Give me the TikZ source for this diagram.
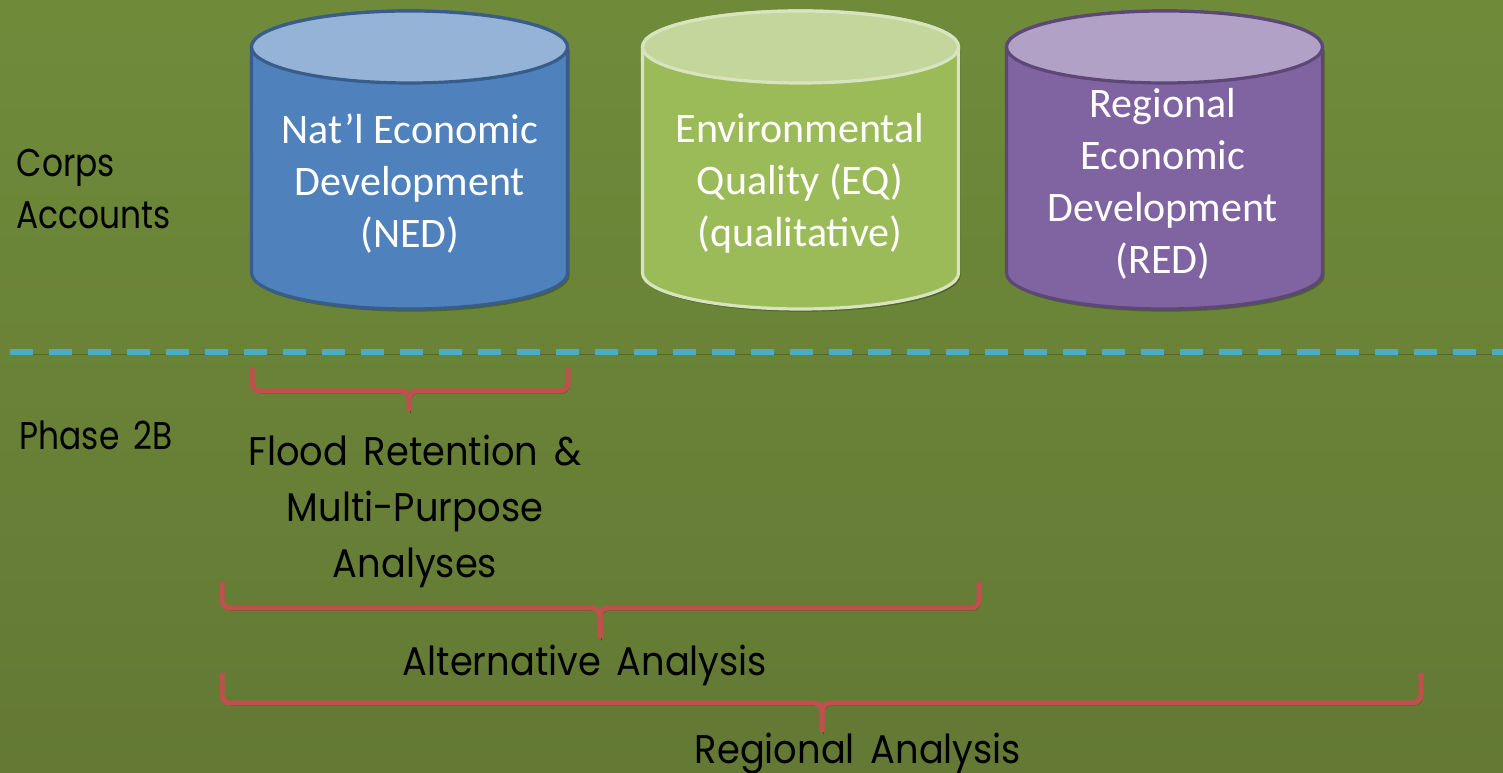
\documentclass[tikz,border=0pt]{standalone}
\usepackage{fontspec}
\setmainfont{Carlito}
\newfontfamily\labelfont[FakeStretch=0.92,WordSpace=1.6]{Poppins}
\newfontfamily\rowfont[FakeStretch=0.85,WordSpace=1.6]{Poppins}
\begin{document}
\begin{tikzpicture}[x=0.75pt,y=0.75pt]
\definecolor{bgtop}{HTML}{6F8B3A}
\definecolor{bgbot}{HTML}{637934}
\definecolor{nedbody}{HTML}{4F81BD}
\definecolor{nedtop}{HTML}{95B3D7}
\definecolor{nededge}{HTML}{385D8A}
\definecolor{eqbody}{HTML}{9BBB59}
\definecolor{eqtop}{HTML}{C3D69B}
\definecolor{eqedge}{HTML}{D7E4BD}
\definecolor{redbody}{HTML}{8064A2}
\definecolor{redtop}{HTML}{B2A1C7}
\definecolor{rededge}{HTML}{5C4776}
\definecolor{bracered}{HTML}{C0504D}
\definecolor{dashblue}{HTML}{4BACC6}
\tikzset{
  cyltext/.style={text=white,align=center,font=\fontsize{31.5}{39}\selectfont},
  blacklabel/.style={text=black,font=\labelfont\fontsize{30}{42}\selectfont},
  rowlabel/.style={text=black,font=\rowfont\fontsize{29}{39}\selectfont},
  bracket/.style={draw=bracered,line width=3.75pt,rounded corners=6pt,
    preaction={draw=black,opacity=0.25,transform canvas={xshift=1.2pt,yshift=-1.8pt}}},
  divider/.style={draw=dashblue,line width=4pt,dash pattern=on 17.25pt off 12pt,
    preaction={draw=black,opacity=0.2,transform canvas={xshift=1pt,yshift=-1.5pt}}}
}
% background
\shade[top color=bgtop,bottom color=bgbot] (0,0) rectangle (1503,773);
\useasboundingbox (0,0) rectangle (1503,773);

% cylinder: #1 centre x, #2 fill, #3 top fill, #4 edge colour
\newcommand\drawdrum[4]{%
  \path[fill=black,opacity=0.25,transform canvas={xshift=1.5pt,yshift=-2pt}]
    (#1-158,726) -- (#1-158,500) arc[start angle=180,end angle=360,x radius=158,y radius=36]
    -- (#1+158,726) -- cycle;
  \draw[line width=2.4pt,draw=#4,fill=#2]
    (#1-158,726) -- (#1-158,500) arc[start angle=180,end angle=360,x radius=158,y radius=36]
    -- (#1+158,726) arc[start angle=0,end angle=180,x radius=158,y radius=36] -- cycle;
  \draw[line width=2.4pt,draw=#4,fill=#3] (#1,726) ellipse[x radius=158,y radius=36];
}
\drawdrum{409.5}{nedbody}{nedtop}{nededge}
\drawdrum{800.5}{eqbody}{eqtop}{eqedge}
\drawdrum{1164.5}{redbody}{redtop}{rededge}

\node[cyltext] (ned) at (410,589.5) {Nat’l Economic\\Development\\(NED)};
\node[cyltext] (eq) at (800,589.5) {Environmental\\Quality (EQ)\\(qualitative)};
\node[cyltext] (red) at (1163,589.5) {Regional\\Economic\\Development\\(RED)};

% row labels
\node[rowlabel,align=left,anchor=west] (corps) at (12,584) {Corps\\Accounts};
\node[rowlabel,anchor=west] (phase) at (15,338) {Phase 2B};

% divider between accounts and phase
\coordinate (divl) at (10,421);
\coordinate (divr) at (1503,421);
\path[divider] (divl) -- (divr);

% brackets
\coordinate (b1l) at (252,405); \coordinate (b1r) at (568,405);
\coordinate (b1m) at (409,382); \coordinate (b1t) at (409,362);
\path[bracket] (b1l) |- (b1m) -- (b1t);
\path[bracket] (b1r) |- (b1m) -- (b1t);

\coordinate (b2l) at (222,191); \coordinate (b2r) at (979,191);
\coordinate (b2m) at (600,165); \coordinate (b2t) at (600,135);
\path[bracket] (b2l) |- (b2m) -- (b2t);
\path[bracket] (b2r) |- (b2m) -- (b2t);

\coordinate (b3l) at (222,100); \coordinate (b3r) at (1421,100);
\coordinate (b3m) at (822,70); \coordinate (b3t) at (822,41);
\path[bracket] (b3l) |- (b3m) -- (b3t);
\path[bracket] (b3r) |- (b3m) -- (b3t);

% bracket captions
\node[blacklabel,align=center] (flood) at (415,262) {Flood Retention \&\\Multi-Purpose\\Analyses};
\node[blacklabel] (alt) at (585,108) {Alternative Analysis};
\node[blacklabel] (reg) at (858,19) {Regional Analysis};
\end{tikzpicture}
\end{document}
